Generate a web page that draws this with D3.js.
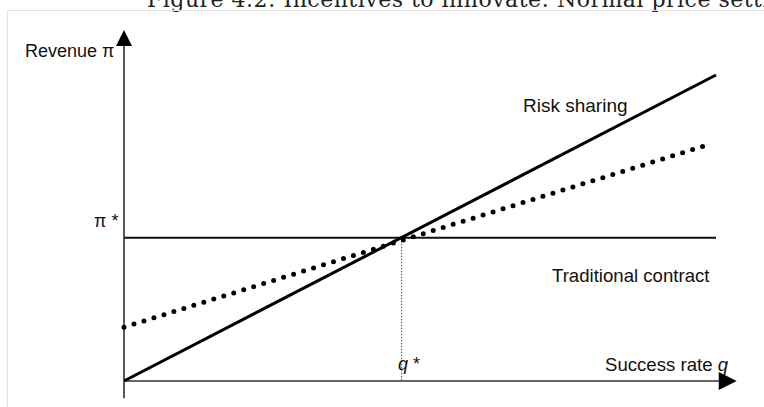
<!DOCTYPE html>
<html>
<head>
<meta charset="utf-8">
<script src="https://cdn.jsdelivr.net/npm/d3@7"></script>
<style>
  body { margin: 0; background: #fff; }
  svg { display: block; }
  .lbl { font-family: "Liberation Sans", Arial, sans-serif; fill: #111; }
</style>
</head>
<body>
<div id="main"></div>
<script>
var W = 764, H = 407;

// success rate q (0..1) and revenue values
var qStar = 0.469;
var piStar = 0.468;
var riskQ = [0, 1];
var riskRevenue = [0, 1];
var dottedQ = [0, 0.985];
var dottedRevenue = [0.176, 0.771];
var tradQ = [0, 1];
var tradRevenue = [piStar, piStar];
var axisQ = [0, 1.035];
var axisRevenue = [-0.056, 1.147];

var x = d3.scaleLinear().domain([0, 1]).range([124, 716]);
var y = d3.scaleLinear().domain([0, 1]).range([381, 75]);

var svg = d3.select("#main").append("svg")
    .attr("width", W)
    .attr("height", H);

// clipped figure caption and image frame
svg.append("text")
    .attr("x", 147)
    .attr("y", 7)
    .style("font-family", "'DejaVu Serif', serif")
    .style("font-size", "22px")
    .style("letter-spacing", "0.5px")
    .attr("fill", "#222")
    .text("Figure 4.2: Incentives to innovate: Normal price setting vs risk sharing");
svg.append("path")
    .attr("d", "M7.5," + H + "V10.5H" + W)
    .attr("fill", "none")
    .attr("stroke", "#e2e2e2")
    .attr("stroke-width", 1);

var line = d3.line()
    .x(function (d) { return x(d[0]); })
    .y(function (d) { return y(d[1]); });

function pairs(qs, vs) {
    return qs.map(function (q, i) { return [q, vs[i]]; });
}

// axes with arrow heads
svg.append("line")
    .attr("x1", x(0)).attr("x2", x(0))
    .attr("y1", y(axisRevenue[0])).attr("y2", y(axisRevenue[1]) + 12)
    .attr("stroke", "#333").attr("stroke-width", 1.6);
svg.append("path")
    .attr("d", "M" + x(0) + "," + y(axisRevenue[1]) +
        "L" + (x(0) + 8) + "," + (y(axisRevenue[1]) + 16) +
        "L" + (x(0) - 8) + "," + (y(axisRevenue[1]) + 16) + "Z")
    .attr("fill", "#000");

svg.append("line")
    .attr("x1", x(0)).attr("x2", x(axisQ[1]) - 12)
    .attr("y1", y(0)).attr("y2", y(0))
    .attr("stroke", "#333").attr("stroke-width", 1.6);
svg.append("path")
    .attr("d", "M" + x(axisQ[1]) + "," + y(0) +
        "L" + (x(axisQ[1]) - 18) + "," + (y(0) - 9) +
        "L" + (x(axisQ[1]) - 18) + "," + (y(0) + 9) + "Z")
    .attr("fill", "#000");

// q* guide
svg.append("line")
    .attr("x1", x(qStar)).attr("x2", x(qStar))
    .attr("y1", y(piStar)).attr("y2", y(0))
    .attr("stroke", "#444").attr("stroke-width", 1)
    .attr("stroke-dasharray", "1.5 1.5");

// traditional contract
svg.append("path")
    .attr("d", line(pairs(tradQ, tradRevenue)))
    .attr("fill", "none").attr("stroke", "#111").attr("stroke-width", 2);

// dotted line
svg.append("path")
    .attr("d", line(pairs(dottedQ, dottedRevenue)))
    .attr("fill", "none").attr("stroke", "#000")
    .attr("stroke-width", 5)
    .attr("stroke-linecap", "round")
    .attr("stroke-dasharray", "0 10.45");

// risk sharing
svg.append("path")
    .attr("d", line(pairs(riskQ, riskRevenue)))
    .attr("fill", "none").attr("stroke", "#000").attr("stroke-width", 3);

// labels
function label(t, px, py, size) {
    return svg.append("text").attr("class", "lbl")
        .attr("x", px).attr("y", py)
        .style("font-size", size + "px")
        .text(t);
}
label("Revenue \u03c0", 25, 57, 18);
label("\u03c0 *", 94, 227, 18);
label("Risk sharing", 523, 112, 19);
label("Traditional contract", 552, 282, 18.6);
label("Success rate ", 605, 371, 18.6).append("tspan").style("font-style", "italic").text("q");
label("q", 398, 370, 18).style("font-style", "italic").append("tspan").style("font-style", "normal").text(" *");
</script>
</body>
</html>
